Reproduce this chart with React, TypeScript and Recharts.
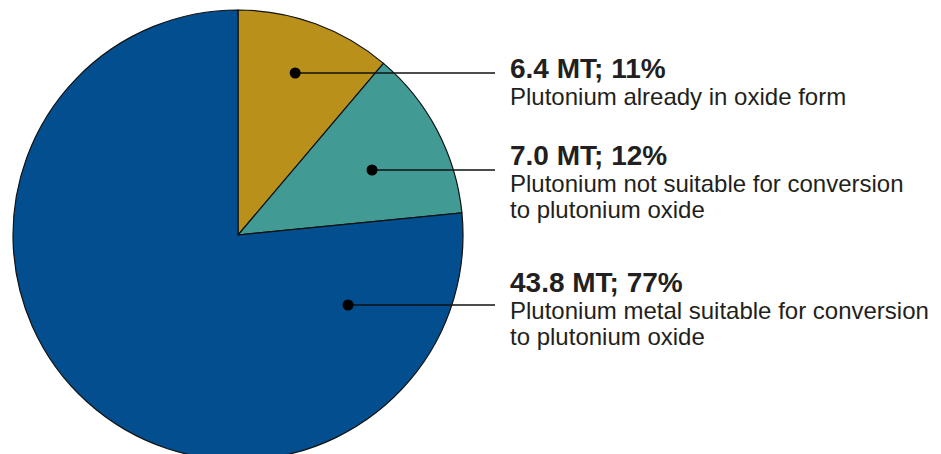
import { Pie, PieChart, Cell } from "recharts";

const categories = [
  "Plutonium already in oxide form",
  "Plutonium not suitable for conversion|to plutonium oxide",
  "Plutonium metal suitable for conversion|to plutonium oxide",
];
const tonnes = [6.4, 7.0, 43.8];
const shares = ["11%", "12%", "77%"];
const colors = ["#B8901A", "#419A93", "#034E8F"];

// label placement: dot (polar angle in degrees, fraction of radius), leader y, header baseline
const labelLayout = [
  { angle: 70.6, frac: 0.765, lineY: 73, headY: 78 },
  { angle: 25.5, frac: 0.66, lineY: 170, headY: 165 },
  { angle: -32.5, frac: 0.58, lineY: 305, headY: 292 },
];

const data = categories.map((name, i) => ({ name, value: tonnes[i] }));

const RAD = Math.PI / 180;
const FONT = "Liberation Sans, Arial, sans-serif";

function renderLabel(props: any) {
  const { cx, cy, outerRadius, index } = props;
  const l = labelLayout[index];
  const r = outerRadius * l.frac;
  const dx = cx + r * Math.cos(l.angle * RAD);
  const lines = categories[index].split("|");
  return (
    <g key={`lbl-${index}`}>
      <line x1={dx} y1={l.lineY} x2={495} y2={l.lineY} stroke="#111" strokeWidth={1.5} />
      <circle cx={dx} cy={l.lineY} r={5.5} fill="#000" />
      <text x={510} y={l.headY} fontFamily={FONT} fontWeight="bold" fontSize={28} fill="#231F20">
        {`${tonnes[index].toFixed(1)} MT; ${shares[index]}`}
      </text>
      {lines.map((t, k) => (
        <text key={k} x={510} y={l.headY + 27 + k * 25.5} fontFamily={FONT} fontSize={24} fill="#231F20">
          {t}
        </text>
      ))}
    </g>
  );
}

export default function App() {
  return (
    <div style={{ position: "absolute", left: 0, top: 0, width: 941, height: 454, background: "#fff", overflow: "hidden" }}>
      <PieChart width={941} height={454} margin={{ top: 0, right: 0, bottom: 0, left: 0 }}>
        <Pie
          data={data}
          dataKey="value"
          cx={238}
          cy={235}
          outerRadius={225}
          startAngle={90}
          endAngle={-270}
          stroke="#111"
          strokeWidth={1.2}
          label={renderLabel}
          labelLine={false}
          isAnimationActive={false}
        >
          {data.map((d, i) => (
            <Cell key={d.name} fill={colors[i]} />
          ))}
        </Pie>
      </PieChart>
    </div>
  );
}
